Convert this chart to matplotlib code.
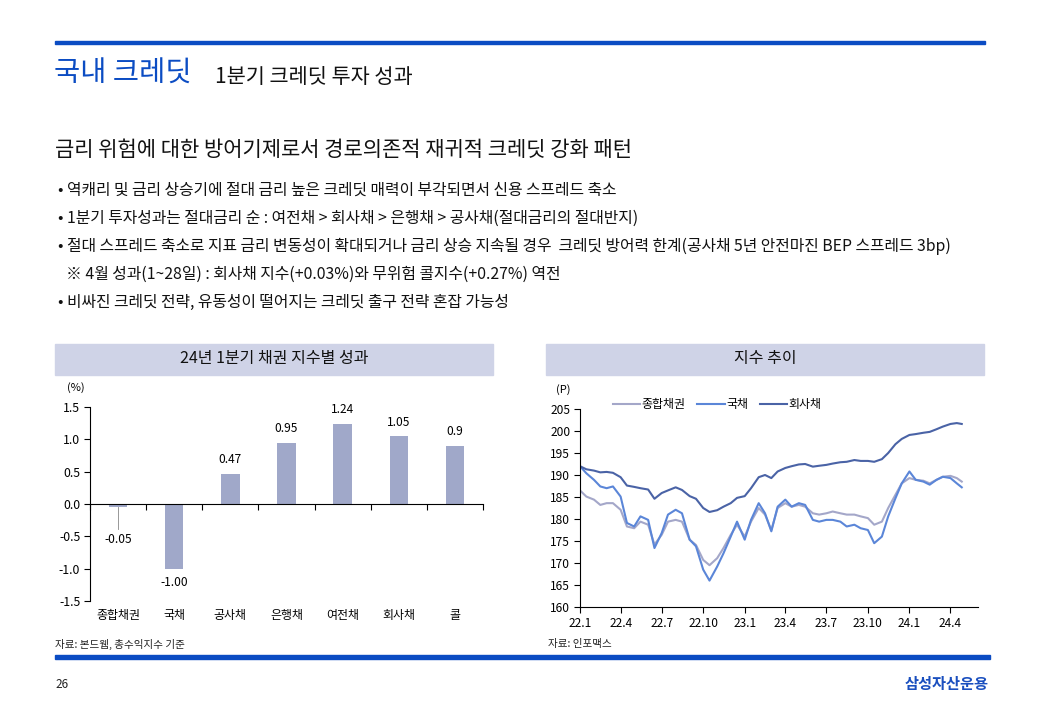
import matplotlib
matplotlib.use("Agg")
import matplotlib.pyplot as plt
from matplotlib.patches import Rectangle
import pandas as pd

plt.rcParams['font.family'] = ['Noto Sans CJK KR', 'DejaVu Sans']

# --- bar chart data ---
bar_cats = ["종합채권", "국채", "공사채", "은행채", "여전채", "회사채", "콜"]
bar_vals = [-0.05, -1.00, 0.47, 0.95, 1.24, 1.05, 0.9]
bar_labels = ["-0.05", "-1.00", "0.47", "0.95", "1.24", "1.05", "0.9"]

# --- line chart data (semi-monthly readings + last day) ---
dates = pd.date_range("2022-01-01", periods=56, freq="SMS").append(pd.DatetimeIndex(["2024-04-26"]))
total_idx = [186.5, 185.1, 184.4, 183.2, 183.6, 183.6, 182.1, 178.3, 177.9, 179.4,
             178.7, 174.2, 176.4, 179.4, 179.8, 179.4, 175.3, 174.1, 170.7, 169.5,
             171.1, 173.4, 176.4, 178.7, 176.0, 179.4, 182.5, 181.0, 177.5, 182.5,
             183.6, 182.8, 183.2, 182.8, 181.3, 181.0, 181.3, 181.7, 181.3, 181.0,
             181.0, 180.6, 180.2, 178.7, 179.4, 182.5, 185.5, 188.1, 189.3, 188.9,
             188.7, 188.1, 188.9, 189.6, 189.8, 189.3, 188.5]
gov_idx = [192.0, 190.4, 188.9, 187.4, 187.0, 187.4, 185.1, 179.1, 178.3, 180.6,
           179.8, 173.4, 176.8, 181.0, 182.1, 181.3, 175.3, 173.8, 168.5, 166.0,
           169.2, 172.2, 176.0, 179.4, 175.3, 179.8, 183.6, 181.3, 177.2, 182.8,
           184.4, 182.8, 183.6, 183.2, 179.8, 179.4, 179.8, 179.8, 179.4, 178.3,
           178.7, 177.9, 177.5, 174.5, 176.0, 180.6, 184.7, 188.1, 190.8, 188.9,
           188.5, 187.8, 188.9, 189.6, 189.3, 188.1, 187.2]
corp_idx = [192.0, 191.3, 191.0, 190.6, 190.7, 190.5, 189.5, 187.6, 187.3, 187.0,
            186.7, 184.6, 185.9, 186.5, 187.2, 186.6, 185.2, 184.6, 182.5, 181.6,
            182.0, 182.8, 183.6, 184.8, 185.2, 187.0, 189.5, 190.0, 189.3, 190.8,
            191.6, 192.0, 192.4, 192.5, 191.9, 192.1, 192.3, 192.6, 192.9, 193.0,
            193.4, 193.2, 193.2, 193.0, 193.6, 195.0, 197.0, 198.2, 199.1, 199.3,
            199.6, 199.8, 200.4, 201.0, 201.6, 201.8, 201.6]
series_names = ["종합채권", "국채", "회사채"]
series_colors = ["#a4a7c9", "#5b86d8", "#4a63a6"]

BLUE = "#0b4cc3"
BOX = "#cfd3e7"
W, H = 1040, 720

def fx(x):
    return x / W

def fy(y):
    return 1 - y / H

fig = plt.figure(figsize=(W / 100, H / 100), dpi=100)

# rules
fig.add_artist(Rectangle((fx(55), fy(44)), fx(985 - 55), 3 / H, color=BLUE, transform=fig.transFigure))
fig.add_artist(Rectangle((fx(55), fy(659)), fx(990 - 55), 4 / H, color=BLUE, transform=fig.transFigure))

# header texts
fig.text(fx(54), fy(74), "국내 크레딧", fontsize=20.5, color=BLUE, va="center")
fig.text(fx(215), fy(77), "1분기 크레딧 투자 성과", fontsize=15, color="#111111", va="center")
fig.text(fx(55), fy(150), "금리 위험에 대한 방어기제로서 경로의존적 재귀적 크레딧 강화 패턴",
         fontsize=15.1, color="#111111", va="center")

bullets = [
    (58, 190, "• 역캐리 및 금리 상승기에 절대 금리 높은 크레딧 매력이 부각되면서 신용 스프레드 축소"),
    (58, 218, "• 1분기 투자성과는 절대금리 순 : 여전채 > 회사채 > 은행채 > 공사채(절대금리의 절대반지)"),
    (58, 246, "• 절대 스프레드 축소로 지표 금리 변동성이 확대되거나 금리 상승 지속될 경우  크레딧 방어력 한계(공사채 5년 안전마진 BEP 스프레드 3bp)"),
    (66, 274, "※ 4월 성과(1~28일) : 회사채 지수(+0.03%)와 무위험 콜지수(+0.27%) 역전"),
    (58, 302, "• 비싸진 크레딧 전략, 유동성이 떨어지는 크레딧 출구 전략 혼잡 가능성"),
]
for x, y, t in bullets:
    fig.text(fx(x), fy(y), t, fontsize=11.4, color="#111111", va="center")

# chart title boxes
for x0, x1, title in [(55, 493, "24년 1분기 채권 지수별 성과"), (546, 984, "지수 추이")]:
    fig.add_artist(Rectangle((fx(x0), fy(375)), fx(x1 - x0), 31 / H, color=BOX, transform=fig.transFigure))
    fig.text(fx((x0 + x1) / 2), fy(359), title, fontsize=11.5, ha="center", va="center", color="#111111")

# --- bar chart ---
ax = fig.add_axes([fx(90), fy(601), fx(483 - 90), (601 - 407) / H])
xs = range(len(bar_cats))
ax.bar(xs, bar_vals, width=0.33, color="#a0a8c9")
ax.set_xlim(-0.5, len(bar_cats) - 0.5)
ax.set_ylim(-1.5, 1.5)
ax.set_yticks([1.5, 1.0, 0.5, 0.0, -0.5, -1.0, -1.5])
ax.set_yticklabels(["1.5", "1.0", "0.5", "0.0", "-0.5", "-1.0", "-1.5"])
ax.spines["top"].set_visible(False)
ax.spines["right"].set_visible(False)
ax.spines["bottom"].set_position(("data", 0))
ax.set_xticks([i - 0.5 for i in range(len(bar_cats) + 1)])
ax.set_xticklabels([])
ax.tick_params(axis="x", direction="out", length=4, width=0.8)
ax.tick_params(axis="y", direction="out", length=4, width=0.8, labelsize=8.8, pad=3)
for s in ["left", "bottom"]:
    ax.spines[s].set_linewidth(0.8)
for i, (v, lab) in enumerate(zip(bar_vals, bar_labels)):
    if v >= 0:
        ax.annotate(lab, (i, v), xytext=(0, 10), textcoords="offset points",
                    ha="center", va="center", fontsize=8.6)
    elif v > -0.2:
        ax.plot([i, i], [v, v - 0.33], color="#888888", lw=0.6)
        ax.annotate(lab, (i, v), xytext=(0, -23), textcoords="offset points",
                    ha="center", va="center", fontsize=8.6)
    else:
        ax.annotate(lab, (i, v), xytext=(0, -10), textcoords="offset points",
                    ha="center", va="center", fontsize=8.6)
for i, c in enumerate(bar_cats):
    ax.text(i, -0.077, c, transform=ax.get_xaxis_transform(), ha="center", va="center", fontsize=8.6)
fig.text(fx(67), fy(388), "(%)", fontsize=8, va="center")

# --- line chart ---
ax2 = fig.add_axes([fx(580), fy(607), fx(978 - 580), (607 - 409) / H])
for vals, name, col in zip([total_idx, gov_idx, corp_idx], series_names, series_colors):
    ax2.plot(dates, vals, color=col, lw=1.5, label=name)
ax2.set_ylim(160, 205)
ax2.set_yticks(range(160, 206, 5))
ax2.set_xlim(pd.Timestamp("2022-01-01"), pd.Timestamp("2024-06-01"))
qticks = pd.date_range("2022-01-01", "2024-04-01", freq="QS")
ax2.set_xticks(qticks)
ax2.set_xticklabels([f"{d.year % 100}.{d.month}" for d in qticks])
ax2.spines["top"].set_visible(False)
ax2.spines["right"].set_visible(False)
for s in ["left", "bottom"]:
    ax2.spines[s].set_linewidth(0.8)
ax2.tick_params(axis="both", direction="out", length=4, width=0.8, labelsize=8.6, pad=3)
ax2.legend(loc="upper left", bbox_to_anchor=(0.07, 1.08), ncol=3, frameon=False, fontsize=8.6,
           handlelength=2.3, handletextpad=0.1, columnspacing=1.0, borderaxespad=0)
fig.text(fx(556), fy(390), "(P)", fontsize=8, va="center")

# sources and footer
fig.text(fx(55), fy(644), "자료: 본드웹, 총수익지수 기준", fontsize=7.6, va="center", color="#222222")
fig.text(fx(548), fy(644), "자료: 인포맥스", fontsize=7.6, va="center", color="#222222")
fig.text(fx(55), fy(684), "26", fontsize=8.5, va="center", color="#222222")
fig.text(fx(989), fy(684), "삼성자산운용", fontsize=11, va="center", ha="right", color="#1a4fbf",
         fontweight="bold")

fig.savefig("out.png", dpi=100)
